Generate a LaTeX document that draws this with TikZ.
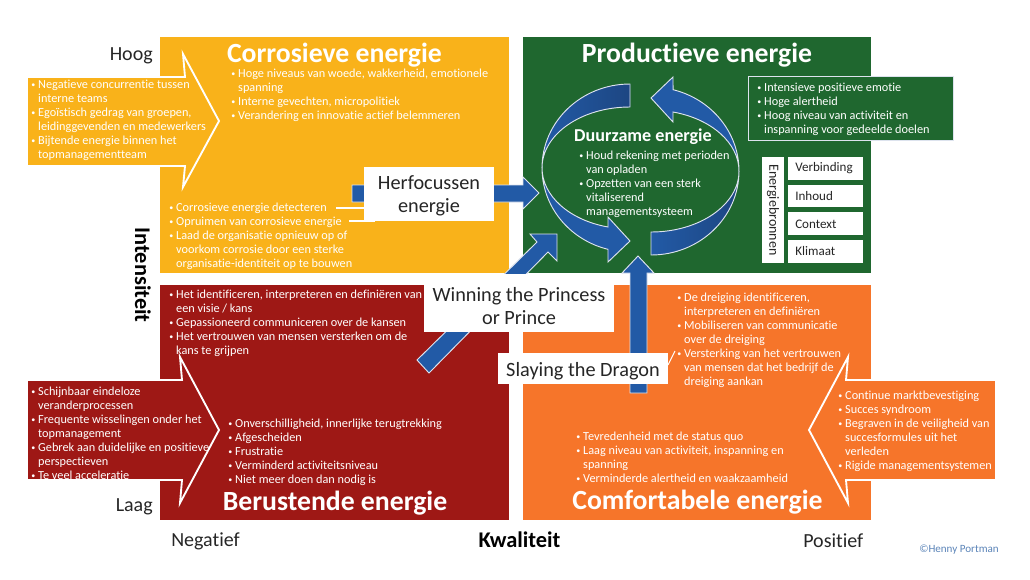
\documentclass[tikz,border=0pt]{standalone}
\usepackage{fontspec}
\setmainfont[Ligatures=NoCommon]{Carlito}
\definecolor{geel}{HTML}{F9B21A}
\definecolor{groen}{HTML}{1F672F}
\definecolor{rood}{HTML}{9E1815}
\definecolor{oranje}{HTML}{F6752A}
\definecolor{blauw}{HTML}{225AA6}
\definecolor{donkerblauw}{HTML}{1D4682}
\definecolor{rand}{HTML}{DDE3EE}
\definecolor{inkt}{HTML}{262626}
\definecolor{merk}{HTML}{5B84B8}
\newcommand{\bl}{\makebox[5.2pt][l]{\raisebox{0.4pt}{\fontsize{6}{6}\selectfont\textbullet}}}
\newcommand{\cl}{\hspace*{5.2pt}}
\tikzset{
    lijst/.style={anchor=north west,inner sep=0pt,text=white,align=left,font=\fontsize{9.2}{10.5}\selectfont},
    titel/.style={inner sep=0pt,text=white,font=\fontsize{20.8}{24}\bfseries\selectfont},
    as/.style={inner sep=0pt,text=inkt,font=\fontsize{15}{17}\selectfont},
    asbold/.style={inner sep=0pt,text=black,font=\fontsize{16.8}{19}\bfseries\selectfont},
    pijlvlak/.style={draw=white,line width=1.4pt,miter limit=10},
    blauwpijl/.style={fill=blauw,draw=rand,line width=0.7pt},
    etiketvlak/.style={fill=white,inner sep=0pt},
    etiket/.style={inner sep=0pt,text=inkt,align=center,font=\fontsize{15.2}{17.2}\selectfont},
    bron/.style={fill=white,anchor=north west,minimum width=56.25pt,minimum height=17pt,inner sep=0pt},
    bronnaam/.style={text=inkt,anchor=west,inner sep=0pt,font=\fontsize{9.8}{11}\selectfont},
}
\begin{document}
\begin{tikzpicture}[x=0.75pt,y=-0.75pt]
  \useasboundingbox (0,0) rectangle (1030,579);
  %kwadranten
  \fill [geel] (160,37) rectangle (509,273);
  \fill [groen] (522.5,37) rectangle (871,273);
  \fill [rood] (160,284.5) rectangle (509,520);
  \fill [oranje] (522.5,284.5) rectangle (871,520);
  %pijlen buiten
  \path [pijlvlak,fill=geel] (27,77) -- (185,77) -- (183,54) -- (219,121) -- (183,187) -- (185,166) -- (27,166) -- cycle;
  \path [pijlvlak,fill=rood] (27,380) -- (182,380) -- (180,357) -- (219,430) -- (180,503) -- (182,480) -- (27,480) -- cycle;
  \path [pijlvlak,fill=oranje] (996,380) -- (846,380) -- (848,357) -- (809,430) -- (848,503) -- (846,480) -- (996,480) -- cycle;
  %blauwe pijlen
  \draw [blauwpijl] (352,185) -- (523,185) -- (523,177) -- (539,193) -- (523,209) -- (523,202) -- (352,202) -- cycle;
  \draw [blauwpijl] (417,360) -- (537,242) -- (530,234) -- (557,234) -- (557,261) -- (548,252) -- (429,373) -- cycle;
  \draw [blauwpijl] (630,393) -- (630,273) -- (622,273) -- (638,256) -- (654,273) -- (647,273) -- (647,393) -- cycle;
  %kringloop
  \foreach \hoek in {0,180}{
    \begin{scope}[rotate around={\hoek:(640.5,169.5)}]
      \draw [blauwpijl,left color=blauw,right color=donkerblauw] (630,84) arc[start angle=270,end angle=180,x radius=88,y radius=84] arc[start angle=180,end angle=270,x radius=88,y radius=61] -- cycle;
      \draw [blauwpijl] (542,168) arc[start angle=180,end angle=104.5,x radius=88,y radius=84] -- (608,262) -- (630,241) -- (608,217) -- (608,227) arc[start angle=104.5,end angle=180,x radius=88,y radius=61] -- cycle;
    \end{scope}
  }
  %teksten kwadranten
  \node [titel] (corrosief) at (334.5,55) {Corrosieve energie};
  \node [titel] (productief) at (697,55) {Productieve energie};
  \node [titel] (berustend) at (335,503.5) {Berustende energie};
  \node [titel] (comfortabel) at (697.5,502.5) {Comfortabele energie};
  \node [lijst] (geelpijl) at (31,79.5) {\bl Negatieve concurrentie tussen\\\cl interne teams\\\bl Egoïstisch gedrag van groepen,\\\cl leidinggevenden en medewerkers\\\bl Bijtende energie binnen het\\\cl topmanagementteam};
  \node [lijst] (geelboven) at (231,68.5) {\bl Hoge niveaus van woede, wakkerheid, emotionele\\\cl spanning\\\bl Interne gevechten, micropolitiek\\\bl Verandering en innovatie actief belemmeren};
  \node [lijst] (geelonder) at (169,202.5) {\bl Corrosieve energie detecteren\\\bl Opruimen van corrosieve energie\\\bl Laad de organisatie opnieuw op of\\\cl voorkom corrosie door een sterke\\\cl organisatie-identiteit op te bouwen};
  \node [lijst] (roodboven) at (169,289.5) {\bl Het identificeren, interpreteren en definiëren van\\\cl een visie / kans\\\bl Gepassioneerd communiceren over de kansen\\\bl Het vertrouwen van mensen versterken om de\\\cl kans te grijpen};
  \node [lijst] (roodpijl) at (31,386.5) {\bl Schijnbaar eindeloze\\\cl veranderprocessen\\\bl Frequente wisselingen onder het\\\cl topmanagement\\\bl Gebrek aan duidelijke en positieve\\\cl perspectieven\\\bl Te veel acceleratie};
  \node [lijst] (roodmidden) at (228,418.5) {\bl Onverschilligheid, innerlijke terugtrekking\\\bl Afgescheiden\\\bl Frustratie\\\bl Verminderd activiteitsniveau\\\bl Niet meer doen dan nodig is};
  \node [lijst] (oranjeboven) at (677,292.5) {\bl De dreiging identificeren,\\\cl interpreteren en definiëren\\\bl Mobiliseren van communicatie\\\cl over de dreiging\\\bl Versterking van het vertrouwen\\\cl van mensen dat het bedrijf de\\\cl dreiging aankan};
  \node [lijst] (oranjepijl) at (838,390.5) {\bl Continue marktbevestiging\\\bl Succes syndroom\\\bl Begraven in de veiligheid van\\\cl succesformules uit het\\\cl verleden\\\bl Rigide managementsystemen};
  \node [lijst] (oranjemidden) at (576,431.5) {\bl Tevredenheid met de status quo\\\bl Laag niveau van activiteit, inspanning en\\\cl spanning\\\bl Verminderde alertheid en waakzaamheid};
  %productief
  \node [fill=groen,draw=rand,line width=0.8pt,anchor=north west,minimum width=154pt,minimum height=48pt,inner sep=0pt] (groenvak) at (748,76) {};
  \node [lijst] (groenlijst) at (757,82.5) {\bl Intensieve positieve emotie\\\bl Hoge alertheid\\\bl Hoog niveau van activiteit en\\\cl inspanning voor gedeelde doelen};
  \node [inner sep=0pt,text=white,font=\fontsize{13.6}{16}\bfseries\selectfont] (duurzaam) at (643,136.5) {Duurzame energie};
  \node [lijst] (duurzaamlijst) at (579,150.5) {\bl Houd rekening met perioden\\\cl van opladen\\\bl Opzetten van een sterk\\\cl vitaliserend\\\cl managementsysteem};
  %energiebronnen
  \fill [white] (762,157) rectangle (784,263);
  \node [inner sep=0pt,text=inkt,rotate=-90,font=\fontsize{10.5}{12}\selectfont] (bronnen) at (773,210) {Energiebronnen};
  \node [bron] (verbinding) at (788,157) {};
  \node [bron] (inhoud) at (788,184.5) {};
  \node [bron] (context) at (788,212) {};
  \node [bron] (klimaat) at (788,240) {};
  \node [bronnaam] (verbindingnaam) at (795,168) {Verbinding};
  \node [bronnaam] (inhoudnaam) at (795,196) {Inhoud};
  \node [bronnaam] (contextnaam) at (795,224) {Context};
  \node [bronnaam] (klimaatnaam) at (795,251.5) {Klimaat};
  %etiketten
  \node [etiketvlak,minimum width=97.5pt,minimum height=40.5pt] (herfocusvlak) at (429,194) {};
  \node [etiketvlak,minimum width=142.5pt,minimum height=43.5pt] (princessvlak) at (519,303) {};
  \node [etiketvlak,minimum width=127.5pt,minimum height=23.25pt] (dragonvlak) at (583,368.5) {};
  \node [etiket] (herfocus) at (429,196) {Herfocussen\\energie};
  \node [etiket] (princess) at (519,306) {Winning the Princess\\or Prince};
  \node [etiket] (dragon) at (583,371) {Slaying the Dragon};
  %lijntjes
  \coordinate (lijnA) at (336,208);
  \coordinate (lijnB) at (349,221);
  \coordinate (lijnC) at (675,351);
  \draw [white,line width=0.8pt] (lijnA) -- (lijnA-|herfocusvlak.west);
  \draw [white,line width=0.8pt] (lijnB) -- (375,221);
  \draw [white,line width=0.8pt] (lijnC) -- (668,365);
  %assen
  \node [as,anchor=east] (hoog) at (153,56) {Hoog};
  \node [as,anchor=east] (laag) at (153,507) {Laag};
  \node [as,anchor=west] (negatief) at (171,541) {Negatief};
  \node [as,anchor=west] (positief) at (803,541) {Positief};
  \node [asbold] (kwaliteit) at (519.5,540) {Kwaliteit};
  \node [asbold,rotate=-90] (intensiteit) at (143,275) {Intensiteit};
  \node [inner sep=0pt,anchor=west,text=merk,font=\fontsize{8.3}{10}\selectfont] (naam) at (919,550) {©Henny Portman};
\end{tikzpicture}
\end{document}
